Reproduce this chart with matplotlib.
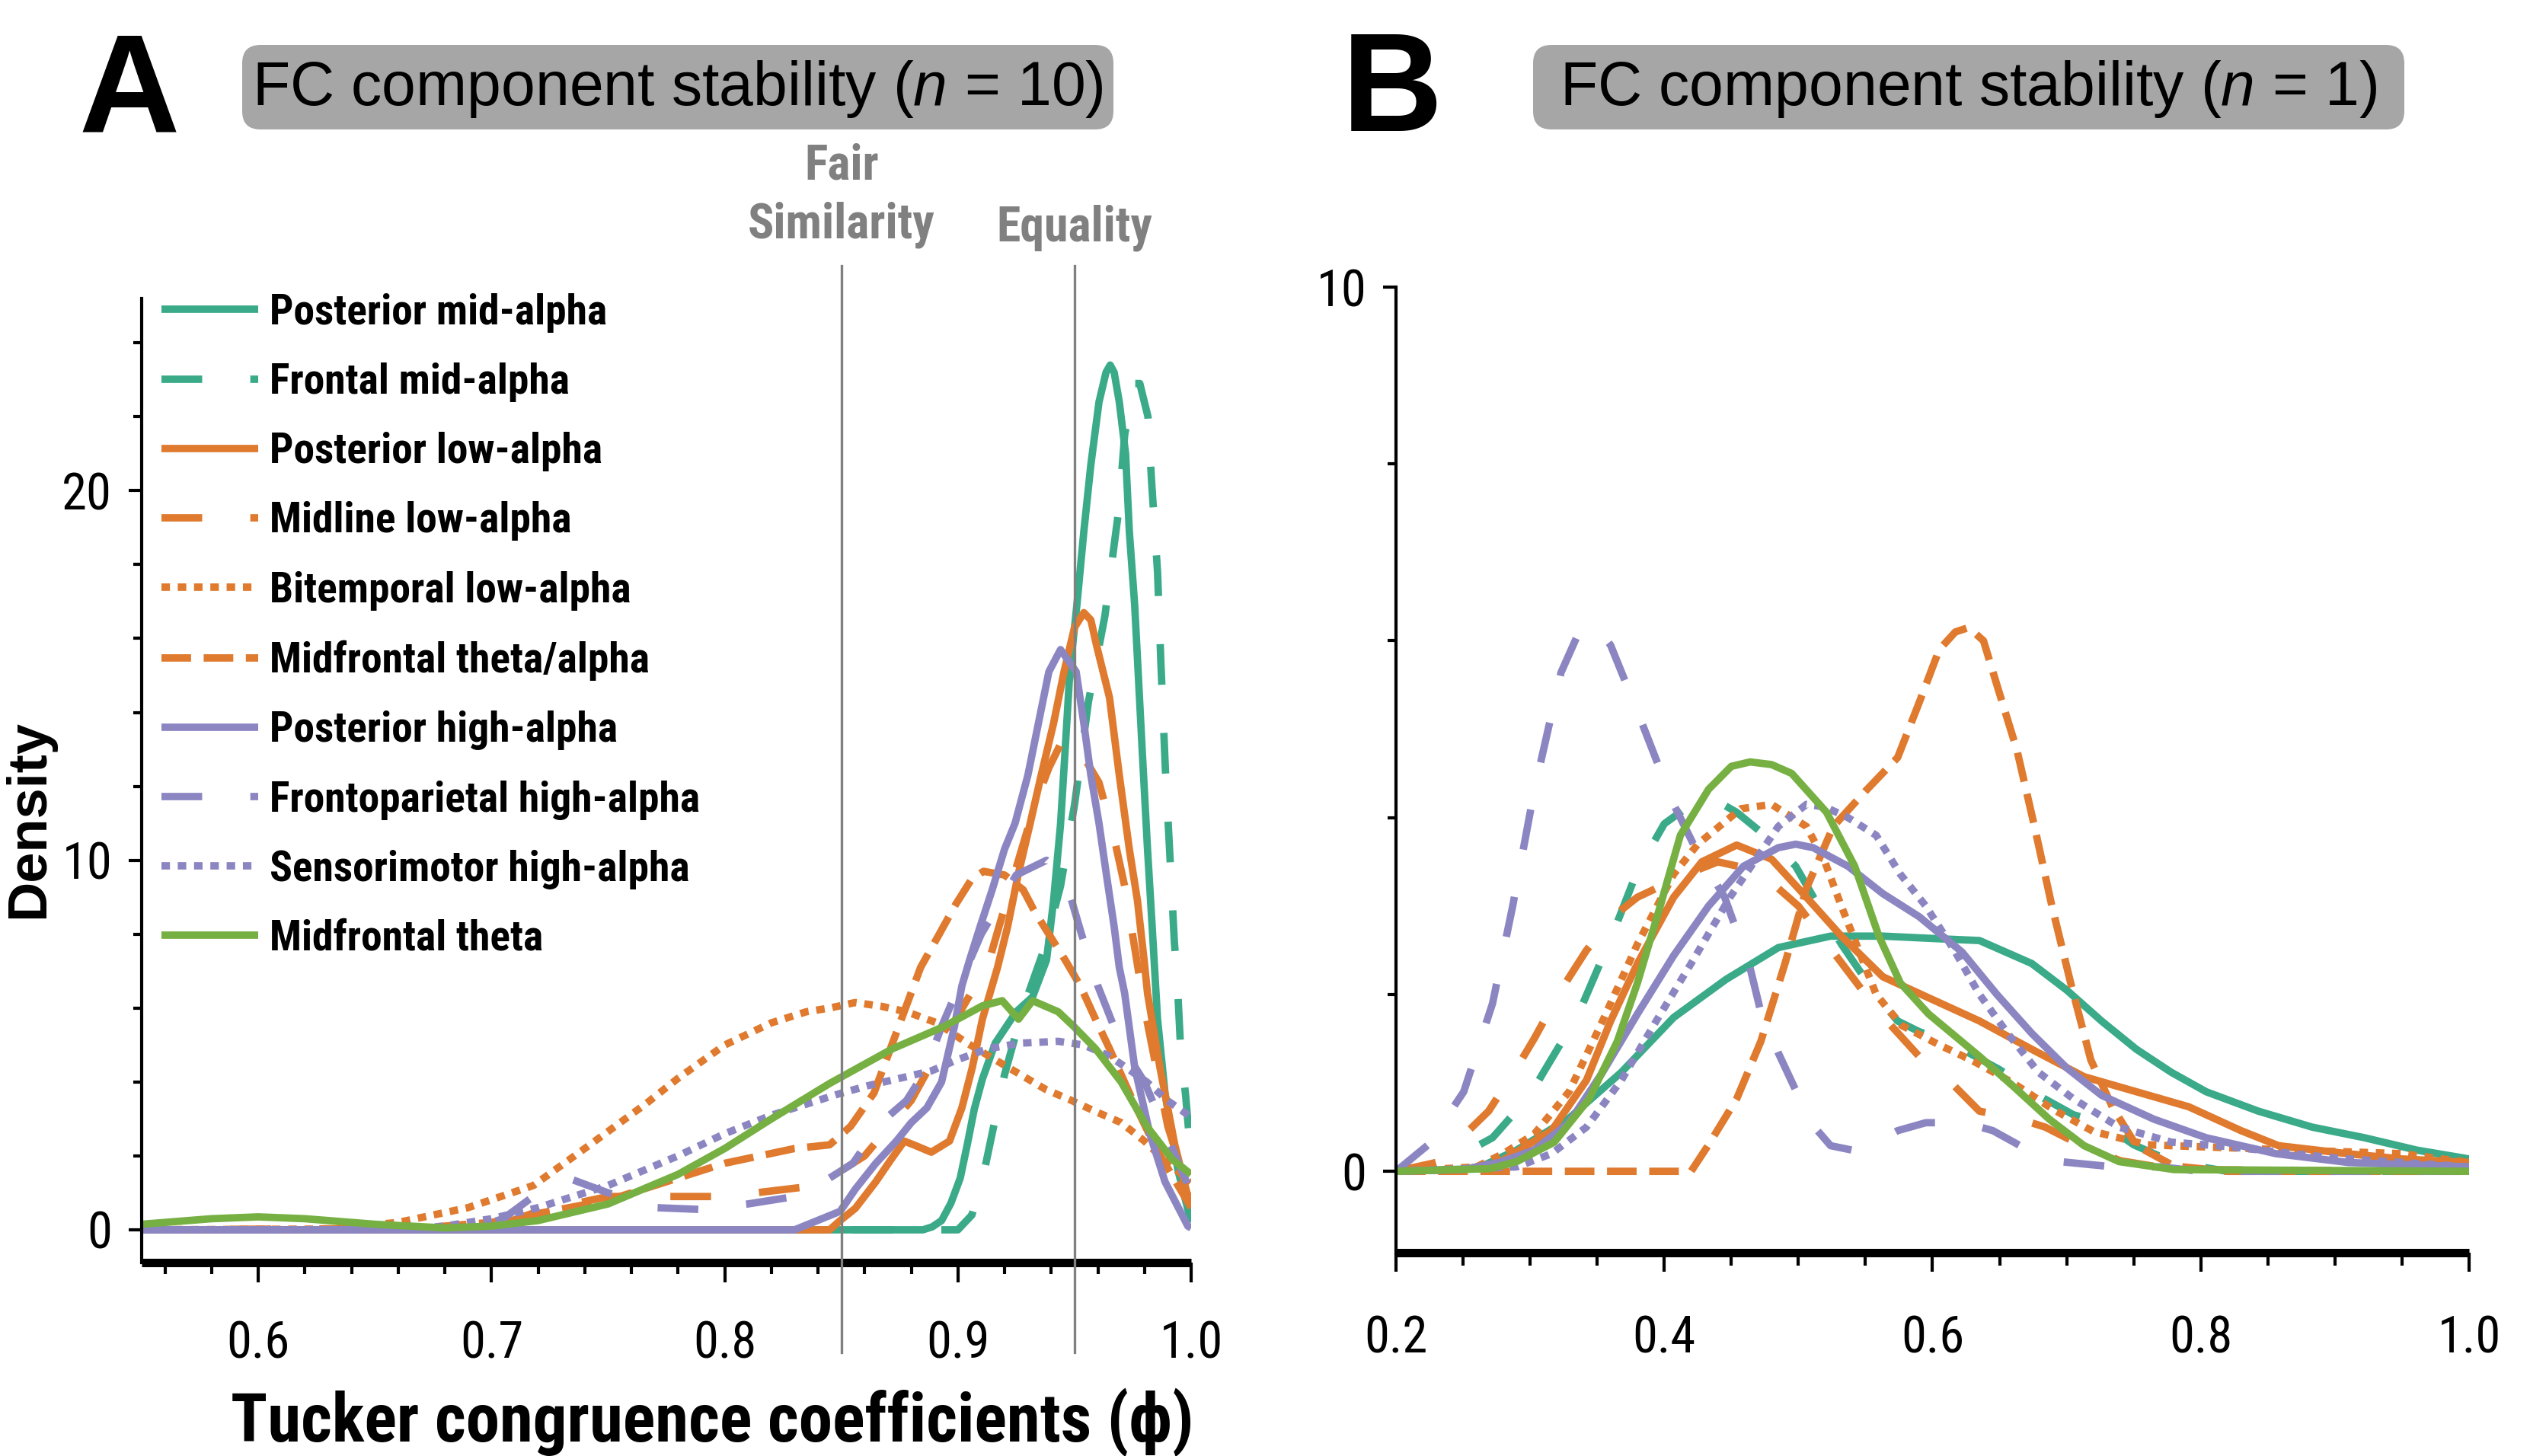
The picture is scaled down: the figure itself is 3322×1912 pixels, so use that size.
import matplotlib
matplotlib.use('Agg')
import matplotlib.pyplot as plt
from matplotlib import font_manager as fm
from matplotlib.patches import FancyBboxPatch
from matplotlib.transforms import IdentityTransform
from matplotlib.ticker import FixedLocator

# ---------------- data ----------------
labels = ["Posterior mid-alpha", "Frontal mid-alpha", "Posterior low-alpha",
          "Midline low-alpha", "Bitemporal low-alpha", "Midfrontal theta/alpha",
          "Posterior high-alpha", "Frontoparietal high-alpha",
          "Sensorimotor high-alpha", "Midfrontal theta"]

# Panel A (n = 10)
A_x_pm = [0.55, 0.885, 0.889, 0.893, 0.897, 0.901, 0.904, 0.907, 0.9105, 0.916, 0.925, 0.932, 0.938, 0.941,
          0.944, 0.946, 0.948, 0.951, 0.954, 0.957, 0.9605, 0.9635, 0.9653, 0.967, 0.9692, 0.9719, 0.9735,
          0.9758, 0.979, 0.9813, 0.9833, 0.9856, 0.9888, 0.9944, 1.0]
A_y_pm = [0, 0, 0.08, 0.25, 0.72, 1.4, 2.3, 3.26, 4.08, 5.05, 5.9, 6.3, 7.3, 8.9, 10.97, 13.0, 15.1, 16.9,
          18.9, 20.7, 22.4, 23.2, 23.4, 23.2, 22.4, 21.0, 18.9, 16.9, 13.0, 10.3, 8.2, 5.7, 3.7, 1.6, 0.2]

A_x_fm = [0.55, 0.90, 0.906, 0.911, 0.916, 0.920, 0.928, 0.937, 0.944, 0.95, 0.956, 0.963, 0.969, 0.9715,
          0.975, 0.978, 0.9815, 0.983, 0.9856, 0.987, 0.989, 0.991, 0.9928, 0.994, 0.9955, 0.9977, 1.0]
A_y_fm = [0, 0, 0.4, 1.5, 3.0, 4.2, 6.0, 7.6, 9.3, 11.5, 14.3, 16.6, 19.5, 21.5, 22.9, 22.9, 22.0, 20.3,
          17.8, 15.4, 12.4, 10.0, 7.8, 6.8, 4.9, 3.6, 1.9]

A_x_pl = [0.55, 0.845, 0.8495, 0.856, 0.8648, 0.8713, 0.877, 0.881, 0.8886, 0.8964, 0.9017, 0.9062, 0.9105,
          0.917, 0.9213, 0.9258, 0.931, 0.9357, 0.941, 0.9455, 0.950, 0.954, 0.957, 0.9595, 0.965, 0.9692,
          0.9735, 0.977, 0.980, 0.9813, 0.9866, 0.993, 0.9986, 1.0]
A_y_pl = [0, 0, 0.25, 0.58, 1.3, 1.9, 2.4, 2.3, 2.1, 2.4, 3.3, 4.4, 5.7, 7.1, 8.2, 9.6, 11.0, 12.3, 13.7,
          15.1, 16.3, 16.7, 16.5, 15.8, 14.4, 12.3, 10.3, 8.9, 7.2, 6.4, 4.4, 2.3, 0.9, 0.7]

A_x_ml = [0.55, 0.70, 0.72, 0.75, 0.80, 0.84, 0.86, 0.88, 0.90, 0.913, 0.925, 0.933, 0.939, 0.946, 0.952,
          0.9605, 0.967, 0.9715, 0.98, 0.99, 1.0]
A_y_ml = [0, 0.05, 0.5, 0.9, 0.9, 1.2, 2.0, 3.5, 5.8, 7.2, 9.8, 11.5, 12.5, 13.4, 13.0, 12.1, 10.6, 9.3,
          6.0, 2.8, 0.8]

A_x_bt = [0.55, 0.63, 0.66, 0.69, 0.718, 0.74, 0.766, 0.78, 0.80, 0.82, 0.835, 0.845, 0.856, 0.867, 0.878,
          0.891, 0.904, 0.916, 0.9268, 0.9376, 0.9487, 0.959, 0.970, 0.98, 0.99, 1.0]
A_y_bt = [0, 0.02, 0.2, 0.6, 1.2, 2.2, 3.4, 4.1, 5.0, 5.6, 5.9, 6.0, 6.15, 6.05, 5.9, 5.6, 5.05, 4.6, 4.2,
          3.8, 3.5, 3.2, 2.9, 2.4, 1.8, 1.3]

A_x_mt = [0.55, 0.66, 0.70, 0.75, 0.80, 0.83, 0.845, 0.854, 0.864, 0.874, 0.884, 0.892, 0.899, 0.906, 0.911,
          0.92, 0.928, 0.933, 0.94, 0.946, 0.9525, 0.959, 0.965, 0.975, 0.985, 1.0]
A_y_mt = [0, 0, 0.2, 0.8, 1.8, 2.2, 2.3, 2.8, 3.7, 5.4, 7.1, 8.0, 8.8, 9.5, 9.7, 9.6, 9.2, 8.6, 7.9, 7.3,
          6.6, 5.7, 4.9, 3.5, 2.2, 0.6]

A_x_ph = [0.55, 0.83, 0.8495, 0.856, 0.8648, 0.8736, 0.880, 0.8867, 0.893, 0.8985, 0.9017, 0.905, 0.9095,
          0.9147, 0.920, 0.9245, 0.930, 0.9345, 0.939, 0.944, 0.9507, 0.954, 0.957, 0.9605, 0.9637, 0.967,
          0.9692, 0.9715, 0.9758, 0.9823, 0.9888, 0.9986, 1.0]
A_y_ph = [0, 0, 0.5, 1.1, 1.8, 2.4, 2.9, 3.3, 4.0, 5.5, 6.6, 7.3, 8.2, 9.2, 10.3, 11.0, 12.3, 13.7, 15.1,
          15.7, 15.1, 13.7, 12.3, 11.0, 9.6, 8.2, 7.1, 6.4, 4.4, 2.6, 1.3, 0.1, 0.05]

A_x_fp = [0.55, 0.69, 0.705, 0.72, 0.735, 0.75, 0.77, 0.79, 0.81, 0.83, 0.845, 0.855, 0.867, 0.878, 0.886,
          0.893, 0.91, 0.925, 0.938, 0.946, 0.953, 0.96, 0.97, 0.98, 0.99, 1.0]
A_y_fp = [0, 0, 0.3, 1.0, 1.35, 1.0, 0.6, 0.55, 0.7, 0.9, 1.4, 1.8, 2.9, 3.5, 4.3, 5.5, 8.0, 9.6, 10.0,
          9.5, 8.0, 6.6, 5.0, 4.0, 2.5, 1.0]

A_x_sm = [0.55, 0.66, 0.68, 0.70, 0.72, 0.75, 0.78, 0.80, 0.82, 0.8485, 0.8615, 0.8886, 0.8997, 0.9128,
          0.9268, 0.943, 0.954, 0.965, 0.981, 0.9898, 1.0]
A_y_sm = [0, 0, 0.1, 0.3, 0.6, 1.2, 2.0, 2.6, 3.1, 3.67, 3.9, 4.3, 4.6, 4.9, 5.05, 5.1, 5.0, 4.7, 4.0,
          3.5, 3.05]

A_x_th = [0.55, 0.58, 0.60, 0.62, 0.65, 0.68, 0.70, 0.72, 0.75, 0.78, 0.80, 0.82, 0.845, 0.872, 0.894,
          0.9105, 0.919, 0.926, 0.932, 0.943, 0.9497, 0.959, 0.970, 0.981, 0.992, 1.0]
A_y_th = [0.15, 0.3, 0.35, 0.3, 0.15, 0.05, 0.1, 0.25, 0.7, 1.5, 2.2, 3.0, 3.96, 4.9, 5.5, 6.06, 6.2, 5.7,
          6.2, 5.9, 5.5, 4.9, 4.0, 2.8, 1.9, 1.5]

# Panel B (n = 1)
B_x_pm = [0.2, 0.26, 0.29, 0.329, 0.368, 0.407, 0.446, 0.485, 0.524, 0.563, 0.605, 0.635, 0.674, 0.70,
          0.726, 0.752, 0.778, 0.804, 0.843, 0.883, 0.922, 0.961, 1.0]
B_y_pm = [0, 0.03, 0.24, 0.6, 1.12, 1.74, 2.17, 2.53, 2.66, 2.66, 2.63, 2.61, 2.35, 2.05, 1.7, 1.38, 1.12,
          0.9, 0.68, 0.5, 0.38, 0.24, 0.14]

B_x_fm = [0.2, 0.22, 0.25, 0.272, 0.30, 0.31, 0.336, 0.362, 0.38, 0.40, 0.42, 0.438, 0.454, 0.475, 0.498,
          0.515, 0.532, 0.56, 0.574, 0.59, 0.611, 0.627, 0.65, 0.68, 0.705, 0.726, 0.75, 0.78, 0.82, 1.0]
B_y_fm = [0, 0.05, 0.2, 0.38, 0.86, 1.12, 1.78, 2.7, 3.4, 3.93, 4.15, 4.2, 4.06, 3.8, 3.45, 3.0, 2.57,
          1.95, 1.7, 1.58, 1.47, 1.34, 1.15, 0.85, 0.64, 0.55, 0.3, 0.1, 0, 0]

B_x_pl = [0.2, 0.25, 0.277, 0.316, 0.342, 0.36, 0.38, 0.407, 0.428, 0.454, 0.48, 0.506, 0.532, 0.563,
          0.596, 0.635, 0.674, 0.713, 0.752, 0.791, 0.83, 0.858, 0.909, 0.95, 1.0]
B_y_pl = [0, 0.02, 0.1, 0.46, 1.03, 1.7, 2.35, 3.1, 3.5, 3.69, 3.53, 3.1, 2.66, 2.2, 1.97, 1.7, 1.38,
          1.07, 0.9, 0.73, 0.46, 0.29, 0.2, 0.14, 0.1]

B_x_ml = [0.2, 0.23, 0.25, 0.269, 0.29, 0.303, 0.323, 0.342, 0.365, 0.38, 0.415, 0.44, 0.47, 0.5, 0.53,
          0.56, 0.59, 0.614, 0.635, 0.663, 0.684, 0.71, 0.74, 0.78, 1.0]
B_y_ml = [0, 0.1, 0.4, 0.68, 1.17, 1.5, 2.05, 2.5, 2.92, 3.1, 3.35, 3.5, 3.4, 3.0, 2.4, 1.8, 1.3, 1.0,
          0.68, 0.6, 0.5, 0.3, 0.12, 0.02, 0]

B_x_bt = [0.2, 0.26, 0.28, 0.303, 0.329, 0.354, 0.38, 0.407, 0.425, 0.457, 0.48, 0.506, 0.519, 0.532,
          0.545, 0.558, 0.577, 0.605, 0.63, 0.66, 0.69, 0.72, 0.76, 0.85, 0.95, 1.0]
B_y_bt = [0, 0.05, 0.2, 0.42, 0.9, 1.7, 2.57, 3.36, 3.7, 4.1, 4.15, 3.9, 3.53, 3.0, 2.5, 2.0, 1.65, 1.43,
          1.25, 1.0, 0.7, 0.45, 0.3, 0.25, 0.2, 0.1]

B_x_mt = [0.2, 0.42, 0.433, 0.454, 0.472, 0.49, 0.506, 0.526, 0.55, 0.574, 0.59, 0.605, 0.617, 0.627,
          0.638, 0.648, 0.663, 0.676, 0.689, 0.703, 0.718, 0.734, 0.752, 0.78, 0.82, 1.0]
B_y_mt = [0, 0, 0.3, 0.82, 1.47, 2.35, 3.2, 3.9, 4.3, 4.68, 5.3, 5.9, 6.1, 6.15, 6.0, 5.5, 4.76, 3.9, 3.0,
          2.13, 1.26, 0.73, 0.29, 0.06, 0, 0]

B_x_ph = [0.2, 0.25, 0.277, 0.303, 0.329, 0.354, 0.38, 0.407, 0.433, 0.459, 0.485, 0.498, 0.511, 0.537,
          0.563, 0.59, 0.622, 0.648, 0.674, 0.70, 0.726, 0.765, 0.804, 0.856, 0.91, 1.0]
B_y_ph = [0, 0.02, 0.1, 0.24, 0.55, 1.12, 1.78, 2.44, 3.0, 3.45, 3.66, 3.7, 3.66, 3.45, 3.14, 2.88, 2.48,
          2.0, 1.56, 1.17, 0.86, 0.59, 0.38, 0.2, 0.1, 0.05]

B_x_fp = [0.2, 0.208, 0.224, 0.2505, 0.272, 0.287, 0.303, 0.323, 0.335, 0.347, 0.36, 0.38, 0.407, 0.425,
          0.445, 0.464, 0.472, 0.485, 0.501, 0.512, 0.524, 0.54, 0.557, 0.574, 0.595, 0.624, 0.645, 0.676,
          0.695, 0.735, 0.77, 0.80, 1.0]
B_y_fp = [0, 0.1, 0.3, 0.9, 1.9, 3.0, 4.3, 5.64, 6.05, 6.2, 5.95, 5.2, 4.15, 3.6, 3.1, 2.3, 1.8, 1.34,
          0.82, 0.5, 0.29, 0.24, 0.32, 0.46, 0.55, 0.55, 0.46, 0.2, 0.11, 0.05, 0.05, 0, 0]

B_x_sm = [0.2, 0.29, 0.316, 0.342, 0.368, 0.394, 0.42, 0.449, 0.485, 0.506, 0.52, 0.537, 0.558, 0.576,
          0.595, 0.617, 0.635, 0.656, 0.679, 0.705, 0.739, 0.778, 0.82, 0.9, 1.0]
B_y_sm = [0, 0.05, 0.2, 0.5, 1.03, 1.7, 2.35, 3.1, 3.9, 4.15, 4.12, 4.0, 3.8, 3.36, 3.0, 2.48, 2.0, 1.56,
          1.12, 0.82, 0.5, 0.33, 0.28, 0.15, 0.05]

B_x_th = [0.2, 0.27, 0.29, 0.318, 0.344, 0.365, 0.38, 0.397, 0.412, 0.433, 0.45, 0.464, 0.48, 0.495, 0.521,
          0.542, 0.56, 0.576, 0.597, 0.635, 0.661, 0.687, 0.713, 0.739, 0.78, 1.0]
B_y_th = [0, 0.03, 0.11, 0.33, 0.82, 1.47, 2.13, 3.0, 3.8, 4.32, 4.58, 4.63, 4.6, 4.5, 4.06, 3.45, 2.66,
          2.13, 1.78, 1.3, 0.95, 0.59, 0.29, 0.11, 0.02, 0]

A_xticks = [0.6, 0.7, 0.8, 0.9, 1.0]
A_xticklabels = ["0.6", "0.7", "0.8", "0.9", "1.0"]
A_yticks = [0, 10, 20]
A_yticklabels = ["0", "10", "20"]
B_xticks = [0.2, 0.4, 0.6, 0.8, 1.0]
B_xticklabels = ["0.2", "0.4", "0.6", "0.8", "1.0"]
B_yticks = [0, 10]
B_yticklabels = ["0", "10"]
thresholds = [0.85, 0.95]

# ---------------- fonts ----------------
W, H, DPI = 3323, 1912, 100
SANS = 'Liberation Sans'


def find_narrow():
    entries = fm.fontManager.ttflist
    names = {f.name for f in entries}
    for n in ['Liberation Sans Narrow', 'Arial Narrow', 'Roboto Condensed', 'Open Sans Condensed',
              'Noto Sans Condensed', 'DejaVu Sans Condensed']:
        if n in names:
            return {'family': [n, 'DejaVu Sans']}, True
    for pref in ['Liberation Sans', 'Roboto', 'Noto Sans', 'Open Sans', 'DejaVu Sans']:
        for f in entries:
            if f.name == pref and 'condensed' in str(f.stretch).lower():
                return {'family': [pref, 'DejaVu Sans'], 'stretch': f.stretch}, True
    return {'family': [SANS, 'DejaVu Sans']}, False


NARROW_KW, HAVE_NARROW = find_narrow()
NS = 1.0 if HAVE_NARROW else 0.82   # width compensation when no narrow face exists


def nfont(size, weight='normal'):
    return fm.FontProperties(size=size, weight=weight, **NARROW_KW)


plt.rcParams['font.family'] = [SANS, 'DejaVu Sans']
plt.rcParams['mathtext.fontset'] = 'custom'
plt.rcParams['mathtext.rm'] = SANS
plt.rcParams['mathtext.it'] = SANS + ':italic'

# ---------------- style ----------------
TEAL, ORANGE, PURPLE, GREEN = '#3aaa89', '#df7a2e', '#8b86c2', '#76b043'
LONG = (0, (5.5, 6.5))
SHORT = (0, (4.0, 1.7))
DOT = (0, (1.15, 1.05))
colors = [TEAL, TEAL, ORANGE, ORANGE, ORANGE, ORANGE, PURPLE, PURPLE, PURPLE, GREEN]
styles = ['-', LONG, '-', LONG, DOT, SHORT, '-', LONG, DOT, '-']
LW = 7.0

A_series = [(A_x_pm, A_y_pm), (A_x_fm, A_y_fm), (A_x_pl, A_y_pl), (A_x_ml, A_y_ml), (A_x_bt, A_y_bt),
            (A_x_mt, A_y_mt), (A_x_ph, A_y_ph), (A_x_fp, A_y_fp), (A_x_sm, A_y_sm), (A_x_th, A_y_th)]
B_series = [(B_x_pm, B_y_pm), (B_x_fm, B_y_fm), (B_x_pl, B_y_pl), (B_x_ml, B_y_ml), (B_x_bt, B_y_bt),
            (B_x_mt, B_y_mt), (B_x_ph, B_y_ph), (B_x_fp, B_y_fp), (B_x_sm, B_y_sm), (B_x_th, B_y_th)]

fig = plt.figure(figsize=(W / DPI, H / DPI), dpi=DPI)
fig.patch.set_facecolor('white')


def px_axes(x0, y0, x1, y1):
    return fig.add_axes([x0 / W, 1 - y1 / H, (x1 - x0) / W, (y1 - y0) / H])


def style_axes(ax, bottom_lw):
    for s in ['top', 'right']:
        ax.spines[s].set_visible(False)
    ax.spines['left'].set_linewidth(3.0)
    ax.spines['bottom'].set_linewidth(bottom_lw)
    ax.spines['bottom'].set_capstyle('butt')
    ax.set_facecolor('none')


def set_ticklabels(ax, xt, xl, yt, yl, size):
    ax.xaxis.set_major_locator(FixedLocator(xt))
    ax.set_xticklabels(xl)
    ax.yaxis.set_major_locator(FixedLocator(yt))
    ax.set_yticklabels(yl)
    for t in ax.get_xticklabels() + ax.get_yticklabels():
        t.set_fontproperties(nfont(size))


TICK_SIZE = 48 * NS

# ---------------- panel A ----------------
axA = px_axes(186, 392, 1564, 1658)
style_axes(axA, 8)
for (xs, ys), c, ls, lab in zip(A_series, colors, styles, labels):
    axA.plot(xs, ys, color=c, linestyle=ls, lw=LW, label=lab, solid_capstyle='butt',
             solid_joinstyle='round')
axA.set_xlim(0.55, 1.0)
axA.set_ylim(-0.887, 25.2)
set_ticklabels(axA, A_xticks, A_xticklabels, A_yticks, A_yticklabels, TICK_SIZE)
axA.xaxis.set_minor_locator(FixedLocator([0.56 + 0.02 * i for i in range(22)]))
axA.yaxis.set_minor_locator(FixedLocator([v for v in range(2, 25, 2) if v not in (10, 20)]))
axA.tick_params(axis='x', which='major', direction='out', length=19, width=3, pad=35)
axA.tick_params(axis='x', which='minor', direction='out', length=11, width=3)
axA.tick_params(axis='y', which='major', direction='out', length=12, width=3, pad=16)
axA.tick_params(axis='y', which='minor', direction='out', length=8, width=3)
for t in thresholds:
    axA.plot([t, t], [-3.32, 26.08], color='#808080', lw=2.4, clip_on=False, zorder=10)

LEG_SIZE = 40 * NS
em_px = LEG_SIZE * DPI / 72
leg = axA.legend(loc='upper left', bbox_to_anchor=(212 / W, 1 - (411 - 0.47 * em_px) / H),
                 bbox_transform=fig.transFigure, frameon=False, borderpad=0, borderaxespad=0,
                 handlelength=127 / em_px, handletextpad=15 / em_px,
                 labelspacing=(91.4 - 0.94 * em_px) / em_px,
                 prop=nfont(LEG_SIZE, 'bold'))

# ---------------- panel B ----------------
axB = px_axes(1833, 377, 3242, 1645)
style_axes(axB, 8)
for (xs, ys), c, ls in zip(B_series, colors, styles):
    axB.plot(xs, ys, color=c, linestyle=ls, lw=LW, solid_capstyle='butt', solid_joinstyle='round')
axB.set_xlim(0.2, 1.0)
axB.set_ylim(-0.92, 10)
set_ticklabels(axB, B_xticks, B_xticklabels, B_yticks, B_yticklabels, TICK_SIZE)
axB.xaxis.set_minor_locator(FixedLocator([0.25 + 0.05 * i for i in range(15)]))
axB.yaxis.set_minor_locator(FixedLocator([2, 4, 6, 8]))
axB.tick_params(axis='x', which='major', direction='out', length=18, width=3, pad=41)
axB.tick_params(axis='x', which='minor', direction='out', length=12, width=3)
axB.tick_params(axis='y', which='major', direction='out', length=12, width=3, pad=16)
axB.tick_params(axis='y', which='minor', direction='out', length=8, width=3)

# ---------------- annotations ----------------


def ftext(x, y, s, **kw):
    return fig.text(x / W, 1 - y / H, s, **kw)


for bx0, bx1, title in [(318, 1462, 'FC component stability ($n$ = 10)'),
                        (2013, 3157, 'FC component stability ($n$ = 1)')]:
    box = FancyBboxPatch((bx0, H - 170), bx1 - bx0, 111,
                         boxstyle='round,pad=0,rounding_size=24',
                         transform=IdentityTransform(), facecolor='#a6a6a6', edgecolor='none')
    fig.add_artist(box)
    ftext((bx0 + bx1) / 2, 117, title, ha='center', va='center', fontsize=58, family=SANS)

ftext(170, 125, 'A', ha='center', va='center', fontsize=132, fontweight='bold', family=SANS)
ftext(1828, 125, 'B', ha='center', va='center', fontsize=132, fontweight='bold', family=SANS)

gray = '#808080'
for (x, y, s) in [(1105, 218, 'Fair'), (1105, 295, 'Similarity'), (1411, 299, 'Equality')]:
    ftext(x, y, s, ha='center', va='center', color=gray, fontproperties=nfont(46 * NS, 'bold'))

ftext(38, 1076, 'Density', rotation=90, ha='center', va='center', fontsize=52, fontweight='bold',
      family=[SANS, 'DejaVu Sans'])
ftext(935, 1868, 'Tucker congruence coefficients (\u03d5)', ha='center', va='center',
      fontproperties=nfont(64 * NS, 'bold'))

fig.savefig('out.png', dpi=DPI, facecolor='white')
